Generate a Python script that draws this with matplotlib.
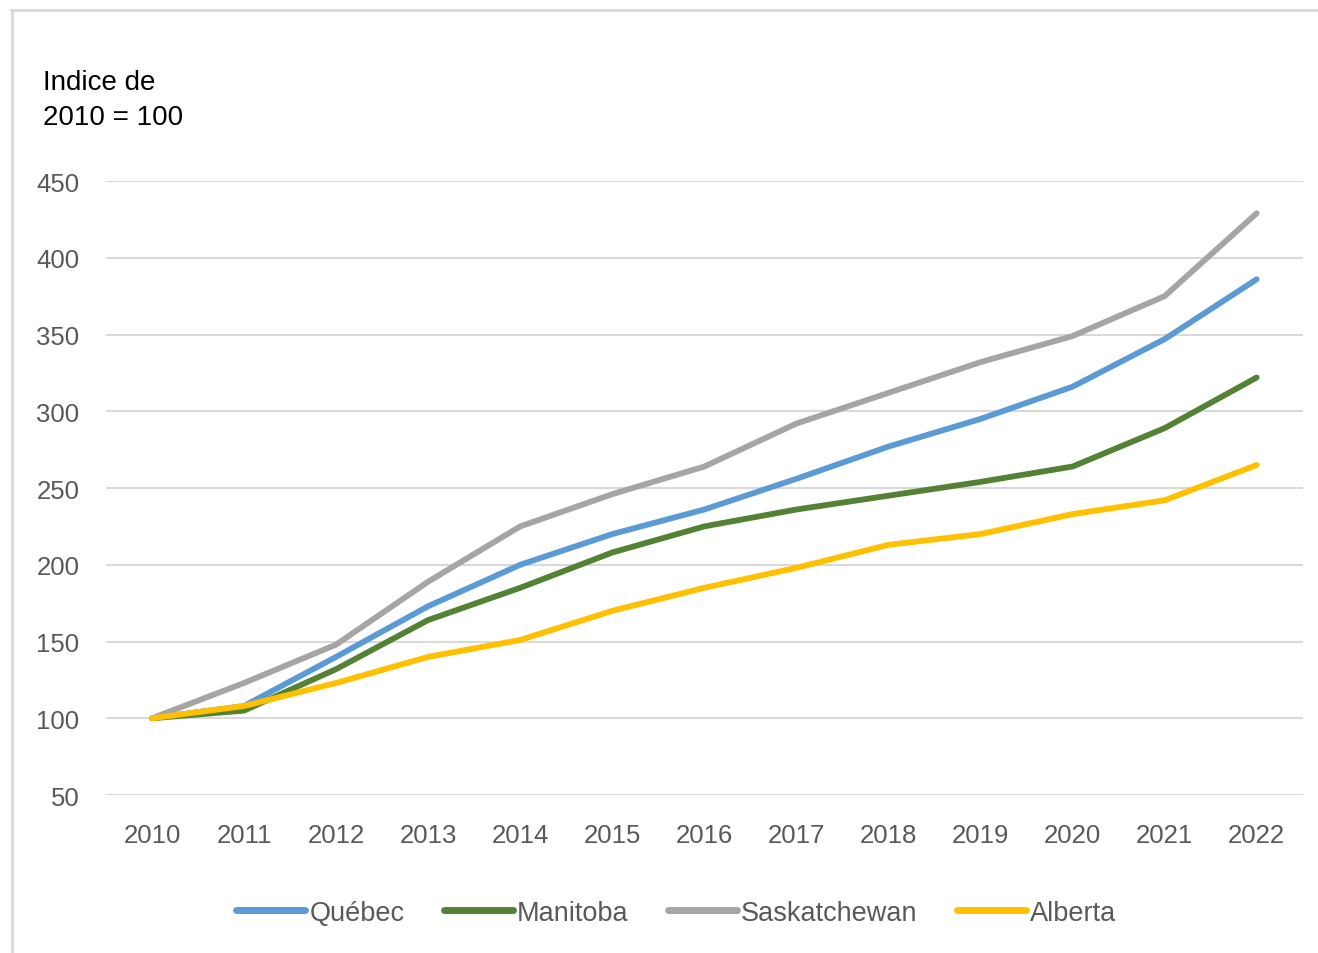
import matplotlib
matplotlib.use('Agg')
import matplotlib.pyplot as plt
from matplotlib.lines import Line2D

years = ['2010', '2011', '2012', '2013', '2014', '2015', '2016',
         '2017', '2018', '2019', '2020', '2021', '2022']

quebec = [100, 108, 140, 173, 200, 220, 236, 256, 277, 295, 316, 347, 386]
manitoba = [100, 105, 132, 164, 185, 208, 225, 236, 245, 254, 264, 289, 322]
saskatchewan = [100, 123, 148, 189, 225, 246, 264, 292, 312, 332, 349, 375, 429]
alberta = [100, 108, 123, 140, 151, 170, 185, 198, 213, 220, 233, 242, 265]

series = [('Québec', quebec, '#5B9BD5'),
          ('Manitoba', manitoba, '#548235'),
          ('Saskatchewan', saskatchewan, '#A5A5A5'),
          ('Alberta', alberta, '#FFC000')]

plt.rcParams['font.family'] = ['Liberation Sans', 'DejaVu Sans']

fig = plt.figure(figsize=(13.18, 9.54), dpi=100)
ax = fig.add_axes([0.0804, 0.1656, 0.908, 0.6436])

x = list(range(len(years)))
for name, vals, col in series:
    ax.plot(x, vals, color=col, lw=4.2, solid_capstyle='round',
            solid_joinstyle='round', label=name, zorder=3)

ax.set_xlim(-0.5, len(years) - 0.5)
ax.set_ylim(50, 450)
ax.set_yticks(range(50, 451, 50))
ax.set_xticks(x)
ax.set_xticklabels(years)
ax.yaxis.grid(True, color='#d9d9d9', lw=1.5)
ax.set_axisbelow(True)
for s in ax.spines.values():
    s.set_visible(False)
ax.tick_params(length=0, labelsize=18.5, colors='#595959')
ax.tick_params(axis='x', pad=20)
ax.tick_params(axis='y', pad=19)

fig.text(0.033, 0.927, 'Indice de\n2010 = 100', fontsize=20, color='black',
         va='top', ha='left', linespacing=1.45)

# figure border (top and left only, like the source)
fig.add_artist(Line2D([0.0083, 1.0], [0.9885, 0.9885], color='#d9d9d9', lw=2,
                      transform=fig.transFigure))
fig.add_artist(Line2D([0.0090, 0.0090], [0.0, 0.9885], color='#d9d9d9', lw=2,
                      transform=fig.transFigure))

handles = [Line2D([0], [0], color=c, lw=5, solid_capstyle='round') for _, _, c in series]
labels = [n for n, _, _ in series]
fig.legend(handles, labels, loc='center', bbox_to_anchor=(0.513, 0.042), ncol=4,
           frameon=False, fontsize=19.5, handlelength=2.55, handletextpad=0.15,
           columnspacing=1.45, labelcolor='#595959')

fig.savefig('out.png', dpi=100)
